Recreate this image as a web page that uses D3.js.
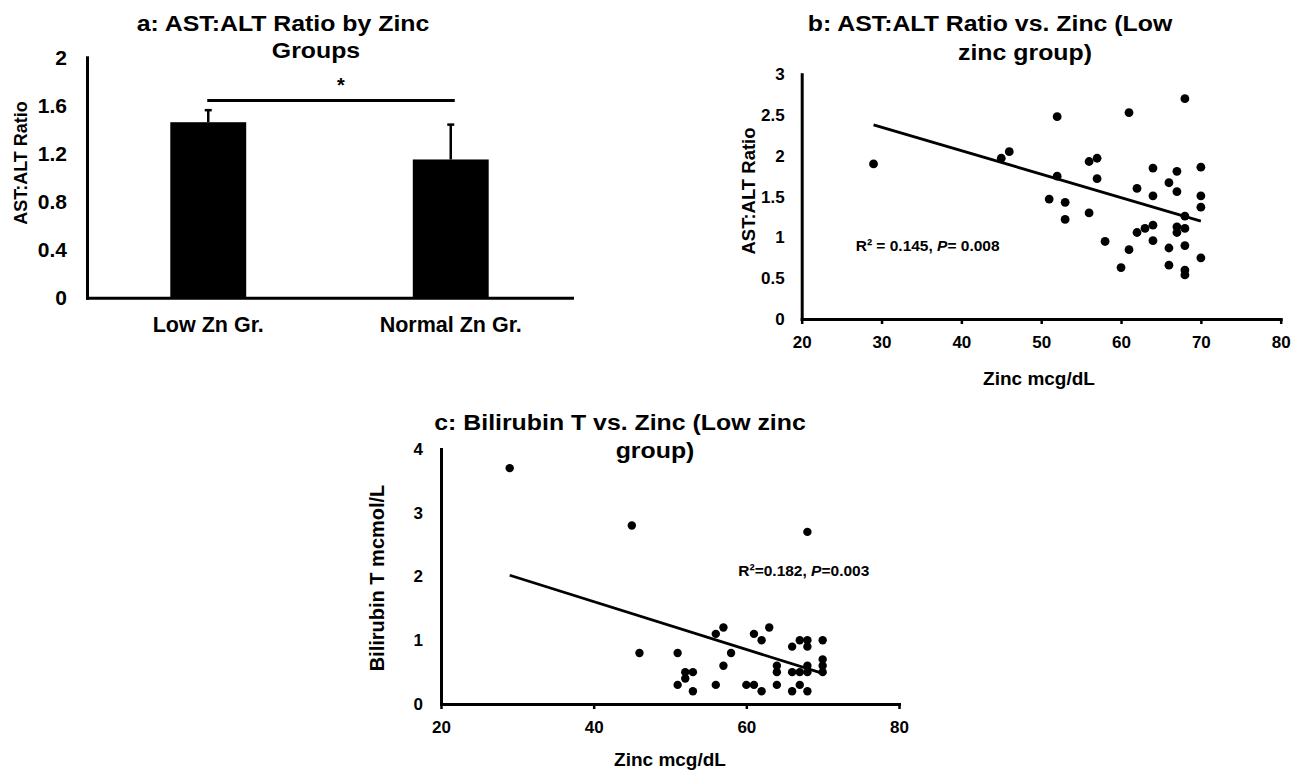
<!DOCTYPE html>
<html>
<head>
<meta charset="utf-8">
<script src="https://cdn.jsdelivr.net/npm/d3@7/dist/d3.min.js"></script>
<style>
  html, body { margin: 0; padding: 0; background: #fff; }
  svg { display: block; font-family: "Liberation Sans", Arial, sans-serif; font-weight: bold; }
  text { fill: #000; }
</style>
</head>
<body>
<svg id="chart" width="1308" height="773"></svg>
<script>
// ---------- Panel a data ----------
const categoriesA = ["Low Zn Gr.", "Normal Zn Gr."];
const meansA = [1.46, 1.15];
const errorsA = [0.10, 0.29];
const sigLevelA = 1.64;
const yTicksA = [0, 0.4, 0.8, 1.2, 1.6, 2];

// ---------- Panel b data ----------
const zincB = [29, 45, 46, 52, 52, 51, 53, 53, 56, 57, 57, 56, 58, 60, 61, 61, 62, 62, 63, 64,
               64, 64, 64, 66, 66, 66, 67, 67, 67, 67, 68, 68, 68, 68, 68, 68, 70, 70, 70, 70];
const ratioB = [1.90, 1.97, 2.05, 2.48, 1.75, 1.47, 1.43, 1.22, 1.93, 1.97, 1.72, 1.30, 0.95, 0.63, 2.53, 0.85, 1.60, 1.06, 1.11, 1.85,
                1.51, 1.15, 0.96, 1.67, 0.87, 0.66, 1.81, 1.56, 1.13, 1.06, 2.70, 1.26, 1.11, 0.90, 0.60, 0.54, 1.86, 1.51, 1.37, 0.75];
const trendXB = [29, 70];
const trendYB = [2.38, 1.20];
const xTicksB = [20, 30, 40, 50, 60, 70, 80];
const yTicksB = [0, 0.5, 1, 1.5, 2, 2.5, 3];

// ---------- Panel c data ----------
const zincC = [29, 45, 46, 51, 51, 52, 52, 53, 53, 56, 56, 57, 57, 58, 60, 61, 61, 62, 62, 63,
               64, 64, 64, 66, 66, 66, 67, 67, 67, 68, 68, 68, 68, 68, 68, 70, 70, 70, 70];
const biliC = [3.7, 2.8, 0.8, 0.8, 0.3, 0.5, 0.4, 0.5, 0.2, 1.1, 0.3, 1.2, 0.6, 0.8, 0.3, 1.1, 0.3, 1.0, 0.2, 1.2,
               0.6, 0.5, 0.3, 0.9, 0.5, 0.2, 1.0, 0.5, 0.3, 2.7, 1.0, 0.9, 0.6, 0.5, 0.2, 1.0, 0.7, 0.6, 0.5];
const trendXC = [29, 70];
const trendYC = [2.02, 0.48];
const xTicksC = [20, 40, 60, 80];
const yTicksC = [0, 1, 2, 3, 4];

const svg = d3.select("#chart");
const fmt = d => String(d);

function styleDomain(g, w) {
  g.select(".domain").attr("stroke", "#000").attr("stroke-width", w).attr("stroke-linecap", "square");
  g.selectAll(".tick line").attr("stroke", "#000").attr("stroke-width", 2.5);
}

// ================= Panel a =================
(function () {
  const x = d3.scaleBand().domain(categoriesA).range([87, 572]).paddingInner(0.687).paddingOuter(0.3435);
  const y = d3.scaleLinear().domain([0, 2]).range([297.7, 57.3]);
  const g = svg.append("g");

  g.selectAll("rect.bar").data(categoriesA).join("rect")
    .attr("x", d => x(d)).attr("width", x.bandwidth())
    .attr("y", (d, i) => y(meansA[i])).attr("height", (d, i) => y(0) - y(meansA[i]))
    .attr("fill", "#000");

  // error bars (upper only)
  categoriesA.forEach((c, i) => {
    const cx = x(c) + x.bandwidth() / 2;
    g.append("line").attr("x1", cx).attr("x2", cx)
      .attr("y1", y(meansA[i])).attr("y2", y(meansA[i] + errorsA[i]))
      .attr("stroke", "#000").attr("stroke-width", 2.5);
    g.append("line").attr("x1", cx - 3.5).attr("x2", cx + 3.5)
      .attr("y1", y(meansA[i] + errorsA[i])).attr("y2", y(meansA[i] + errorsA[i]))
      .attr("stroke", "#000").attr("stroke-width", 2.5);
  });

  // significance line
  const c0 = x(categoriesA[0]) + x.bandwidth() / 2;
  const c1 = x(categoriesA[1]) + x.bandwidth() / 2;
  g.append("line").attr("x1", c0 - 1).attr("x2", c1 + 4)
    .attr("y1", y(sigLevelA)).attr("y2", y(sigLevelA))
    .attr("stroke", "#000").attr("stroke-width", 3);
  g.append("text").attr("x", 341).attr("y", 92).attr("text-anchor", "middle")
    .style("font-size", "20px").text("*");

  const yAx = g.append("g").attr("transform", "translate(87,0)")
    .call(d3.axisLeft(y).tickValues(yTicksA).tickFormat(fmt).tickSize(0).tickPadding(20));
  styleDomain(yAx, 3);
  yAx.selectAll("text").style("font-size", "21px").attr("fill", "#000");

  const xAx = g.append("g").attr("transform", "translate(0,297.7)")
    .call(d3.axisBottom(x).tickSize(0).tickPadding(0));
  styleDomain(xAx, 3);
  xAx.selectAll("text").style("font-size", "21.5px").attr("dy", null).attr("y", 34).attr("fill", "#000");

  g.append("text").attr("transform", "translate(27,163) rotate(-90)").attr("text-anchor", "middle")
    .style("font-size", "18px").text("AST:ALT Ratio");

  g.append("text").attr("transform", "translate(283,30.7) scale(1.13,1)").attr("text-anchor", "middle")
    .style("font-size", "22px").text("a: AST:ALT Ratio by Zinc");
  g.append("text").attr("transform", "translate(316,58.3) scale(1.13,1)").attr("text-anchor", "middle")
    .style("font-size", "22px").text("Groups");
})();

// ================= Panel b =================
(function () {
  const x = d3.scaleLinear().domain([20, 80]).range([801.7, 1280.7]);
  const y = d3.scaleLinear().domain([0, 3]).range([319, 74.2]);
  const g = svg.append("g");

  const yAx = g.append("g").attr("transform", "translate(801.7,0)")
    .call(d3.axisLeft(y).tickValues(yTicksB).tickFormat(fmt).tickSize(0).tickPadding(17));
  styleDomain(yAx, 3);
  yAx.selectAll("text").style("font-size", "17px").attr("fill", "#000");

  const xAx = g.append("g").attr("transform", "translate(0,319)")
    .call(d3.axisBottom(x).tickValues(xTicksB).tickFormat(fmt).tickSizeInner(5).tickSizeOuter(0));
  styleDomain(xAx, 3);
  xAx.selectAll("text").style("font-size", "17px").attr("dy", null).attr("y", 29).attr("fill", "#000");

  g.selectAll("circle").data(zincB).join("circle")
    .attr("cx", d => x(d)).attr("cy", (d, i) => y(ratioB[i])).attr("r", 4.4).attr("fill", "#000");

  g.append("line")
    .attr("x1", x(trendXB[0])).attr("y1", y(trendYB[0]))
    .attr("x2", x(trendXB[1])).attr("y2", y(trendYB[1]))
    .attr("stroke", "#000").attr("stroke-width", 2.8);

  const t = g.append("text").attr("x", 855.7).attr("y", 250.7).style("font-size", "15.5px");
  t.append("tspan").text("R² = 0.145, ");
  t.append("tspan").style("font-style", "italic").text("P");
  t.append("tspan").text("= 0.008");

  g.append("text").attr("transform", "translate(755,191) rotate(-90)").attr("text-anchor", "middle")
    .style("font-size", "18.5px").text("AST:ALT Ratio");
  g.append("text").attr("x", 1039).attr("y", 385).attr("text-anchor", "middle")
    .style("font-size", "19px").text("Zinc mcg/dL");

  g.append("text").attr("transform", "translate(990,30.7) scale(1.13,1)").attr("text-anchor", "middle")
    .style("font-size", "22px").text("b: AST:ALT Ratio vs. Zinc (Low");
  g.append("text").attr("transform", "translate(1025,60) scale(1.13,1)").attr("text-anchor", "middle")
    .style("font-size", "22px").text("zinc group)");
})();

// ================= Panel c =================
(function () {
  const x = d3.scaleLinear().domain([20, 80]).range([441, 899]);
  const y = d3.scaleLinear().domain([0, 4]).range([704, 449]);
  const g = svg.append("g");

  const yAx = g.append("g").attr("transform", "translate(441,0)")
    .call(d3.axisLeft(y).tickValues(yTicksC).tickFormat(fmt).tickSize(0).tickPadding(18));
  styleDomain(yAx, 3);
  yAx.selectAll("text").style("font-size", "17px").attr("fill", "#000");

  const xAx = g.append("g").attr("transform", "translate(0,704)")
    .call(d3.axisBottom(x).tickValues(xTicksC).tickFormat(fmt).tickSizeInner(5).tickSizeOuter(0));
  styleDomain(xAx, 3);
  xAx.selectAll("text").style("font-size", "17px").attr("dy", null).attr("y", 29).attr("fill", "#000");

  g.selectAll("circle").data(zincC).join("circle")
    .attr("cx", d => x(d)).attr("cy", (d, i) => y(biliC[i])).attr("r", 4.2).attr("fill", "#000");

  g.append("line")
    .attr("x1", x(trendXC[0])).attr("y1", y(trendYC[0]))
    .attr("x2", x(trendXC[1])).attr("y2", y(trendYC[1]))
    .attr("stroke", "#000").attr("stroke-width", 2.8);

  const t = g.append("text").attr("x", 738.3).attr("y", 575.7).style("font-size", "15.5px");
  t.append("tspan").text("R²=0.182, ");
  t.append("tspan").style("font-style", "italic").text("P");
  t.append("tspan").text("=0.003");

  g.append("text").attr("transform", "translate(384,578) rotate(-90)").attr("text-anchor", "middle")
    .style("font-size", "20px").text("Bilirubin T mcmol/L");
  g.append("text").attr("x", 670).attr("y", 766).attr("text-anchor", "middle")
    .style("font-size", "19px").text("Zinc mcg/dL");

  g.append("text").attr("transform", "translate(620,430) scale(1.13,1)").attr("text-anchor", "middle")
    .style("font-size", "22px").text("c: Bilirubin T vs. Zinc (Low zinc");
  g.append("text").attr("transform", "translate(655,458) scale(1.13,1)").attr("text-anchor", "middle")
    .style("font-size", "22px").text("group)");
})();
</script>
</body>
</html>
